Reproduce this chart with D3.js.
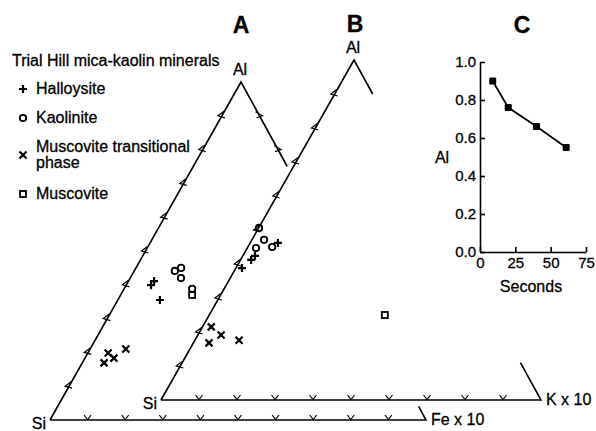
<!DOCTYPE html>
<html>
<head>
<meta charset="utf-8">
<script src="https://cdn.jsdelivr.net/npm/d3@7"></script>
<style>
body { margin: 0; background: #fff; }
svg { display: block; font-family: "Liberation Sans", Arial, sans-serif; }
text { stroke: #000; stroke-width: 0.3px; }
</style>
</head>
<body>
<svg id="fig" width="596" height="431"></svg>
<script>
// ternary points, each [Al fraction, Fe x 10 (A) or K x 10 (B) fraction]
var triA_halloysite = [[0.399, 0.066], [0.411, 0.068], [0.355, 0.112]];
var triA_kaolinite = [[0.441, 0.108], [0.450, 0.120], [0.420, 0.135], [0.388, 0.181]];
var triA_transitional = [[0.198, 0.054], [0.169, 0.058], [0.183, 0.077], [0.210, 0.095]];
var triA_muscovite = [[0.370, 0.190]];

var triB_halloysite = [[0.388, 0.016], [0.412, 0.028], [0.424, 0.032], [0.462, 0.073]];
var triB_kaolinite = [[0.506, 0.001], [0.471, 0.032], [0.447, 0.023], [0.450, 0.064]];
var triB_transitional = [[0.215, 0.023], [0.168, 0.041], [0.191, 0.061], [0.176, 0.116]];
var triB_muscovite = [[0.250, 0.462]];

var sideTicks = [0.1, 0.2, 0.3, 0.4, 0.5, 0.6, 0.7, 0.8, 0.9];
var rightTicksA = [0.9, 0.8];

// panel C
var secondsC = [9, 20, 40, 61];
var alC = [0.90, 0.76, 0.66, 0.55];
var secondsTicks = [0, 25, 50, 75];
var alTicks = [0, 0.2, 0.4, 0.6, 0.8, 1.0];

var legendItems = [
  {kind: "plus", lines: ["Halloysite"]},
  {kind: "circle", lines: ["Kaolinite"]},
  {kind: "cross", lines: ["Muscovite transitional", "phase"]},
  {kind: "square", lines: ["Muscovite"]}
];

var svg = d3.select("#fig");

function marker(g, kind, x, y) {
  if (kind == "plus") {
    g.append("path").attr("d", "M" + (x - 4) + "," + y + "H" + (x + 4) + "M" + x + "," + (y - 4) + "V" + (y + 4))
      .attr("stroke", "#000").attr("stroke-width", 2.2).attr("fill", "none");
  } else if (kind == "cross") {
    g.append("path").attr("d", "M" + (x - 3.5) + "," + (y - 3.5) + "L" + (x + 3.5) + "," + (y + 3.5) +
        "M" + (x + 3.5) + "," + (y - 3.5) + "L" + (x - 3.5) + "," + (y + 3.5))
      .attr("stroke", "#000").attr("stroke-width", 2.2).attr("fill", "none");
  } else if (kind == "circle") {
    g.append("circle").attr("cx", x).attr("cy", y).attr("r", 3.2)
      .attr("stroke", "#000").attr("stroke-width", 1.8).attr("fill", "none");
  } else {
    g.append("rect").attr("x", x - 3).attr("y", y - 3).attr("width", 6).attr("height", 6)
      .attr("stroke", "#000").attr("stroke-width", 1.8).attr("fill", "none");
  }
}

function drawTernary(t) {
  var g = svg.append("g");
  var alX = d3.scaleLinear().domain([0, 1]).range([0, t.al[0] - t.si[0]]),
      alY = d3.scaleLinear().domain([0, 1]).range([t.si[1], t.al[1]]),
      rX = d3.scaleLinear().domain([0, 1]).range([t.si[0], t.r[0]]),
      rAlX = d3.scaleLinear().domain([0, 1]).range([t.r[0], t.al[0]]);
  function proj(al, r) { return [rX(r) + alX(al), alY(al)]; }
  function rightSide(al) { return [rAlX(al), alY(al)]; }

  var line = d3.line();
  var sides = [
    [proj(0, 0), proj(1, 0), rightSide(t.rightTo)],
    [proj(0, 0), proj(0, 1), rightSide(t.cornerTo)]
  ];
  g.selectAll(".side").data(sides).enter().append("path")
    .attr("d", line).attr("fill", "none").attr("stroke", "#000").attr("stroke-width", 1.6);

  // left side ticks "<"
  g.selectAll(".ltick").data(sideTicks).enter().append("path")
    .attr("d", function(d) { var p = proj(d, 0); return "M" + (p[0] + 2) + "," + (p[1] - 4.5) + "L" + (p[0] - 4) + "," + p[1] + "L" + (p[0] + 3) + "," + (p[1] + 2); })
    .attr("fill", "none").attr("stroke", "#000").attr("stroke-width", 1.2);
  // bottom ticks "v"
  g.selectAll(".btick").data(sideTicks).enter().append("path")
    .attr("d", function(d) { var p = proj(0, d); return "M" + (p[0] - 3.5) + "," + (p[1] - 5) + "L" + p[0] + "," + (p[1] - 0.5) + "L" + (p[0] + 3.5) + "," + (p[1] - 5); })
    .attr("fill", "none").attr("stroke", "#000").attr("stroke-width", 1.2);
  // right side ticks ">"
  g.selectAll(".rtick").data(t.rightTicks).enter().append("path")
    .attr("d", function(d) { var p = rightSide(d); return "M" + (p[0] - 4) + "," + (p[1] - 4) + "L" + (p[0] + 3) + "," + p[1] + "L" + (p[0] - 3) + "," + (p[1] + 2); })
    .attr("fill", "none").attr("stroke", "#000").attr("stroke-width", 1.2);

  t.series.forEach(function(s) {
    s.data.forEach(function(d) { var p = proj(d[0], d[1]); marker(g, s.kind, p[0], p[1]); });
  });

  g.append("text").attr("x", t.title[0]).attr("y", t.title[1]).attr("text-anchor", "middle")
    .attr("font-size", 23).attr("font-weight", "bold").text(t.name);
  g.append("text").attr("x", t.al[0] - 1).attr("y", t.al[1] - 7).attr("text-anchor", "middle")
    .attr("font-size", 16).text("Al");
  g.append("text").attr("x", t.si[0] - 4).attr("y", t.si[1] + 9).attr("text-anchor", "end")
    .attr("font-size", 16).text("Si");
  g.append("text").attr("x", t.r[0] + 5).attr("y", t.r[1] + 5)
    .attr("font-size", 16).text(t.rLabel);
}

drawTernary({
  name: "A", title: [241, 33], si: [50, 420], al: [241, 82], r: [426, 420],
  rightTo: 0.75, cornerTo: 0.04, rightTicks: rightTicksA, rLabel: "Fe x 10",
  series: [
    {kind: "cross", data: triA_transitional},
    {kind: "plus", data: triA_halloysite},
    {kind: "circle", data: triA_kaolinite},
    {kind: "square", data: triA_muscovite}
  ]
});
drawTernary({
  name: "B", title: [355, 32], si: [161, 400], al: [354, 60], r: [541, 400],
  rightTo: 0.9, cornerTo: 0.11, rightTicks: [], rLabel: "K x 10",
  series: [
    {kind: "cross", data: triB_transitional},
    {kind: "plus", data: triB_halloysite},
    {kind: "circle", data: triB_kaolinite},
    {kind: "square", data: triB_muscovite}
  ]
});

// legend
var legend = svg.append("g").attr("font-size", 16);
legend.append("text").attr("x", 12).attr("y", 66).text("Trial Hill mica-kaolin minerals");
var legendY = [94, 123, 152, 199];
legendItems.forEach(function(d, i) {
  var y = legendY[i];
  d.lines.forEach(function(l, j) {
    legend.append("text").attr("x", 36).attr("y", y + j * 16).text(l);
  });
  marker(legend, d.kind, 23, y - 5 + (d.lines.length - 1) * 8);
});

// panel C
var xC = d3.scaleLinear().domain([0, 75]).range([480, 586]),
    yC = d3.scaleLinear().domain([0, 1]).range([252, 62]);
var gC = svg.append("g");
gC.append("g")
    .attr("transform", "translate(480,0)")
    .call(d3.axisLeft(yC).tickValues(alTicks).tickFormat(d3.format(".1f")).tickSizeInner(-5).tickSizeOuter(0).tickPadding(4))
    .attr("font-size", 15).attr("font-family", null);
gC.append("g")
    .attr("transform", "translate(0,252)")
    .call(d3.axisBottom(xC).tickValues(secondsTicks).tickSizeInner(-5).tickSizeOuter(0).tickPadding(5))
    .attr("font-size", 15).attr("font-family", null);
gC.selectAll(".domain, .tick line").attr("stroke-width", 1.6);
gC.selectAll(".tick text").attr("fill", "#000");

var ptsC = secondsC.map(function(s, i) { return [s, alC[i]]; });
gC.append("path").datum(ptsC)
    .attr("d", d3.line().x(function(d) { return xC(d[0]); }).y(function(d) { return yC(d[1]); }))
    .attr("fill", "none").attr("stroke", "#000").attr("stroke-width", 1.8);
gC.selectAll(".pt").data(ptsC).enter().append("rect")
    .attr("x", function(d) { return xC(d[0]) - 3.5; })
    .attr("y", function(d) { return yC(d[1]) - 3.5; })
    .attr("width", 7).attr("height", 7).attr("rx", 1.2).attr("fill", "#000");
gC.append("text").attr("x", 522).attr("y", 33).attr("text-anchor", "middle")
    .attr("font-size", 23).attr("font-weight", "bold").text("C");
gC.append("text").attr("x", 442).attr("y", 163).attr("text-anchor", "middle")
    .attr("font-size", 16).text("Al");
gC.append("text").attr("x", 531).attr("y", 292).attr("text-anchor", "middle")
    .attr("font-size", 16).text("Seconds");
</script>
</body>
</html>
